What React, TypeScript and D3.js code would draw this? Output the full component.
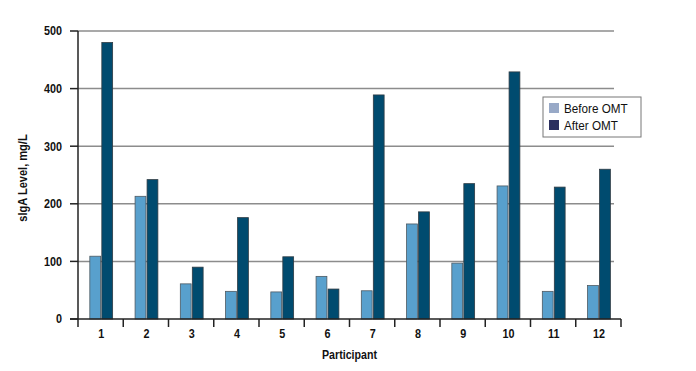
import { useRef, useEffect } from 'react';
import * as d3 from 'd3';

const participants = ['1', '2', '3', '4', '5', '6', '7', '8', '9', '10', '11', '12'];
const beforeOMT = [109, 213, 61, 48, 47, 74, 49, 165, 97, 231, 48, 58];
const afterOMT = [480, 242, 90, 176, 108, 52, 389, 186, 235, 429, 229, 260];
const yTicks = [0, 100, 200, 300, 400, 500];
const seriesNames = ['Before OMT', 'After OMT'];

const width = 696;
const height = 371;

export default function App() {
  const svgRef = useRef<SVGSVGElement | null>(null);

  useEffect(() => {
    const svg = d3.select(svgRef.current);
    svg.selectAll('*').remove();

    const margin = { top: 31, right: 75, bottom: 52, left: 78 };
    const innerWidth = width - margin.left - margin.right;
    const innerHeight = height - margin.top - margin.bottom;
    const font = "'Liberation Sans', Arial, sans-serif";

    const g = svg.append('g').attr('transform', `translate(${margin.left},${margin.top})`);

    // 窄體文字 (參考圖用的是 condensed 字型)
    const narrowText = (parent: any, tx: number, ty: number, sx: number, rot = 0) =>
      parent.append('g')
        .attr('transform', `translate(${tx},${ty}) rotate(${rot}) scale(${sx},1)`)
        .append('text')
        .style('font-family', font)
        .attr('fill', '#111');

    const x = d3.scaleBand<string>().domain(participants).range([0, innerWidth]);
    const y = d3.scaleLinear().domain([0, 500]).range([innerHeight, 0]);

    // 格線
    g.selectAll('line.grid')
      .data(yTicks.filter(d => d > 0))
      .enter()
      .append('line')
      .attr('class', 'grid')
      .attr('x1', 0)
      .attr('x2', innerWidth - 7)
      .attr('y1', d => y(d))
      .attr('y2', d => y(d))
      .attr('stroke', '#8c8c8c')
      .attr('stroke-width', 1.5);

    // 長條
    const barW = 10.8;
    const gap = 1.2;
    const offset = (x.bandwidth() - (barW * 2 + gap)) / 2 + 0.6;
    participants.forEach((p, i) => {
      const x0 = (x(p) ?? 0) + offset;
      g.append('rect')
        .attr('x', x0)
        .attr('y', y(beforeOMT[i]))
        .attr('width', barW)
        .attr('height', innerHeight - y(beforeOMT[i]))
        .attr('fill', '#58a0cd')
        .attr('stroke', '#4d5a63')
        .attr('stroke-width', 0.8);
      g.append('rect')
        .attr('x', x0 + barW + gap)
        .attr('y', y(afterOMT[i]))
        .attr('width', barW)
        .attr('height', innerHeight - y(afterOMT[i]))
        .attr('fill', '#004b6f')
        .attr('stroke', '#2f3b44')
        .attr('stroke-width', 0.8);
    });

    // Y 軸
    g.append('line')
      .attr('x1', 0).attr('x2', 0)
      .attr('y1', 0).attr('y2', innerHeight)
      .attr('stroke', '#222').attr('stroke-width', 1.5);
    yTicks.forEach(t => {
      g.append('line')
        .attr('x1', -8).attr('x2', 0)
        .attr('y1', y(t)).attr('y2', y(t))
        .attr('stroke', '#222').attr('stroke-width', 1.5);
      narrowText(g, -16, y(t), 0.9)
        .attr('dy', '0.36em')
        .attr('text-anchor', 'end')
        .style('font-size', '12px')
        .style('font-weight', 'bold')
        .text(t);
    });

    // X 軸
    g.append('line')
      .attr('x1', -8).attr('x2', innerWidth)
      .attr('y1', innerHeight).attr('y2', innerHeight)
      .attr('stroke', '#222').attr('stroke-width', 1.5);
    const edges = participants.map(p => x(p) ?? 0).concat([innerWidth]);
    edges.forEach(e => {
      g.append('line')
        .attr('x1', e).attr('x2', e)
        .attr('y1', innerHeight).attr('y2', innerHeight + 8)
        .attr('stroke', '#222').attr('stroke-width', 1.5);
    });
    participants.forEach(p => {
      narrowText(g, (x(p) ?? 0) + x.bandwidth() / 2 + 0.6, innerHeight + 18.5, 0.9)
        .attr('text-anchor', 'middle')
        .style('font-size', '12px')
        .style('font-weight', 'bold')
        .text(p);
    });

    // 軸標題
    narrowText(g, innerWidth / 2, innerHeight + 40, 0.82)
      .attr('text-anchor', 'middle')
      .style('font-size', '13px')
      .style('font-weight', 'bold')
      .text('Participant');
    narrowText(svg, 27, 178, 0.85, -90)
      .attr('text-anchor', 'middle')
      .style('font-size', '13px')
      .style('font-weight', 'bold')
      .text('sIgA Level, mg/L');

    // 圖例
    const legend = svg.append('g').attr('transform', 'translate(543,97)');
    legend.append('rect')
      .attr('width', 98)
      .attr('height', 40)
      .attr('fill', '#fff')
      .attr('stroke', '#777')
      .attr('stroke-width', 1);
    const swatch = ['#98a9c7', '#2b2f5f'];
    seriesNames.forEach((name, i) => {
      legend.append('rect')
        .attr('x', 6)
        .attr('y', 6 + i * 17)
        .attr('width', 10)
        .attr('height', 10)
        .attr('fill', swatch[i]);
      narrowText(legend, 21, 11 + i * 17, 0.9)
        .attr('dy', '0.36em')
        .style('font-size', '13px')
        .text(name);
    });
  }, []);

  return <svg ref={svgRef} width={width} height={height} style={{ position: 'absolute', left: 0, top: 0 }}></svg>;
}
